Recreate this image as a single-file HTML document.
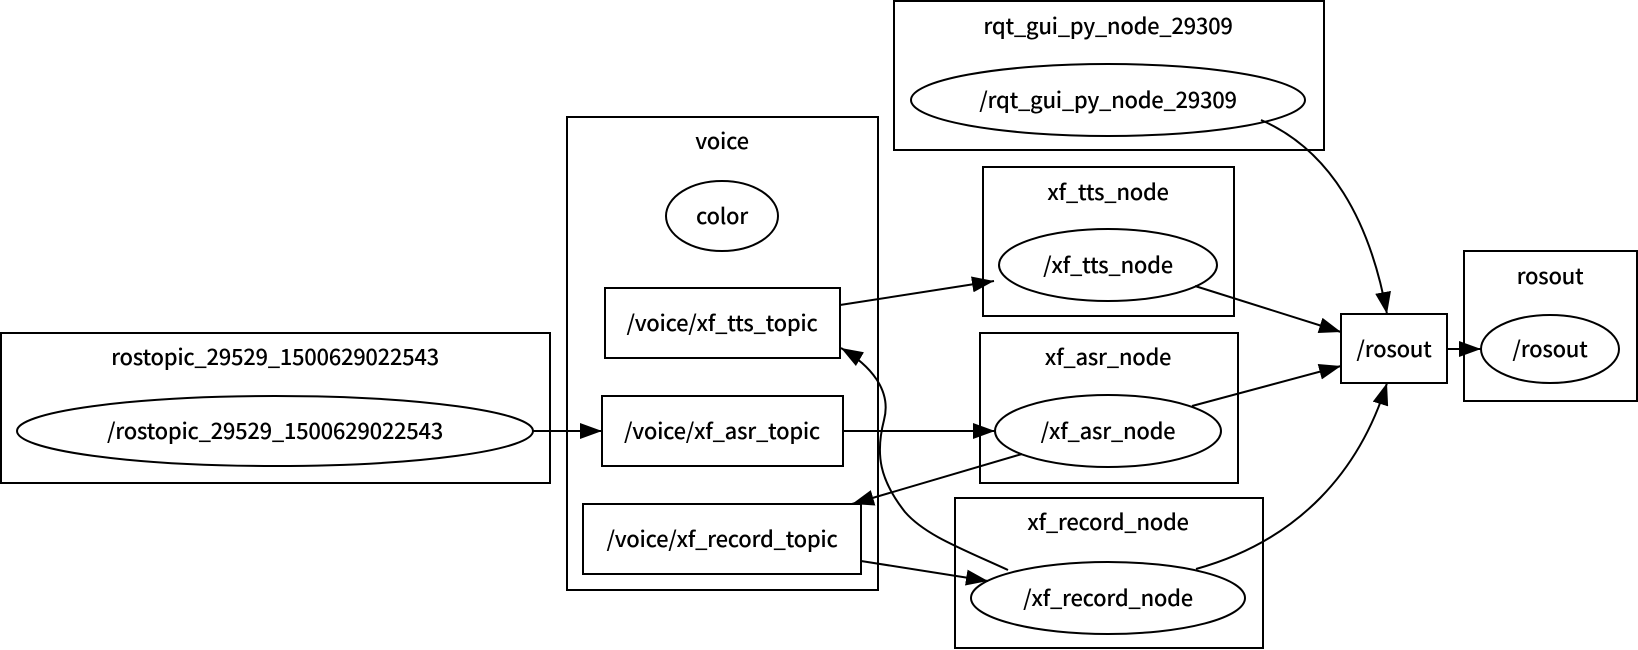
<!DOCTYPE html>
<html><head><meta charset="utf-8"><style>html,body{margin:0;padding:0;background:#fff}svg{display:block}</style></head>
<body>
<svg width="1638" height="650" viewBox="0 0 1638 650" xmlns="http://www.w3.org/2000/svg" font-family="Noto Sans CJK SC, Liberation Sans, sans-serif" font-size="22" font-weight="500" letter-spacing="-0.3">
<defs><marker id="b" markerWidth="22" markerHeight="16" refX="22" refY="8" orient="auto" markerUnits="userSpaceOnUse"><path d="M0,0L22,8L0,16z" fill="#000"/></marker></defs>
<g fill="none" stroke="#000" stroke-width="2">
<rect x="1" y="333" width="549" height="150"/>
<rect x="567" y="117" width="311" height="473"/>
<rect x="894" y="1" width="430" height="149"/>
<rect x="983" y="167" width="251" height="149"/>
<rect x="980" y="333" width="258" height="150"/>
<rect x="955" y="498" width="308" height="150"/>
<rect x="1464" y="251" width="173" height="150"/>
<ellipse cx="275" cy="431" rx="258" ry="35"/>
<ellipse cx="722" cy="216" rx="56" ry="35"/>
<ellipse cx="1108" cy="100" rx="197" ry="36"/>
<ellipse cx="1108" cy="265" rx="109" ry="36"/>
<ellipse cx="1108" cy="431" rx="113" ry="36"/>
<ellipse cx="1108" cy="598" rx="137" ry="36"/>
<ellipse cx="1550" cy="349" rx="69" ry="34"/>
<rect x="605" y="288" width="235" height="70"/>
<rect x="602" y="396" width="241" height="70"/>
<rect x="583" y="504" width="278" height="70"/>
<rect x="1341" y="314" width="106" height="69"/>
</g>
<g fill="none" stroke="#000" stroke-width="2" marker-end="url(#b)">
<path d="M533,431L602,431"/>
<path d="M843,431L995,431"/>
<path d="M840,305L994,281"/>
<path d="M1022,454L852,504"/>
<path d="M861,561L988,581"/>
<path d="M1008,570C960,548 925,535 905,512C880,480 875,455 884,420C892,390 870,365 841,348"/>
<path d="M1261,120C1330,150 1370,220 1387,314"/>
<path d="M1195,286L1341,332"/>
<path d="M1192,406L1341,366"/>
<path d="M1196,569C1300,540 1360,470 1387,383"/>
<path d="M1447,349L1481,349"/>
</g>
<g text-anchor="middle" fill="#000">
<text x="275" y="365">rostopic_29529_1500629022543</text>
<text x="275" y="439">/rostopic_29529_1500629022543</text>
<text x="722" y="149">voice</text>
<text x="722" y="224">color</text>
<text x="722" y="331">/voice/xf_tts_topic</text>
<text x="722" y="439">/voice/xf_asr_topic</text>
<text x="722" y="547">/voice/xf_record_topic</text>
<text x="1108" y="34">rqt_gui_py_node_29309</text>
<text x="1108" y="108">/rqt_gui_py_node_29309</text>
<text x="1108" y="200">xf_tts_node</text>
<text x="1108" y="273">/xf_tts_node</text>
<text x="1108" y="365">xf_asr_node</text>
<text x="1108" y="439">/xf_asr_node</text>
<text x="1108" y="530">xf_record_node</text>
<text x="1108" y="606">/xf_record_node</text>
<text x="1394" y="357">/rosout</text>
<text x="1550" y="284">rosout</text>
<text x="1550" y="357">/rosout</text>
</g>
</svg>
</body></html>
